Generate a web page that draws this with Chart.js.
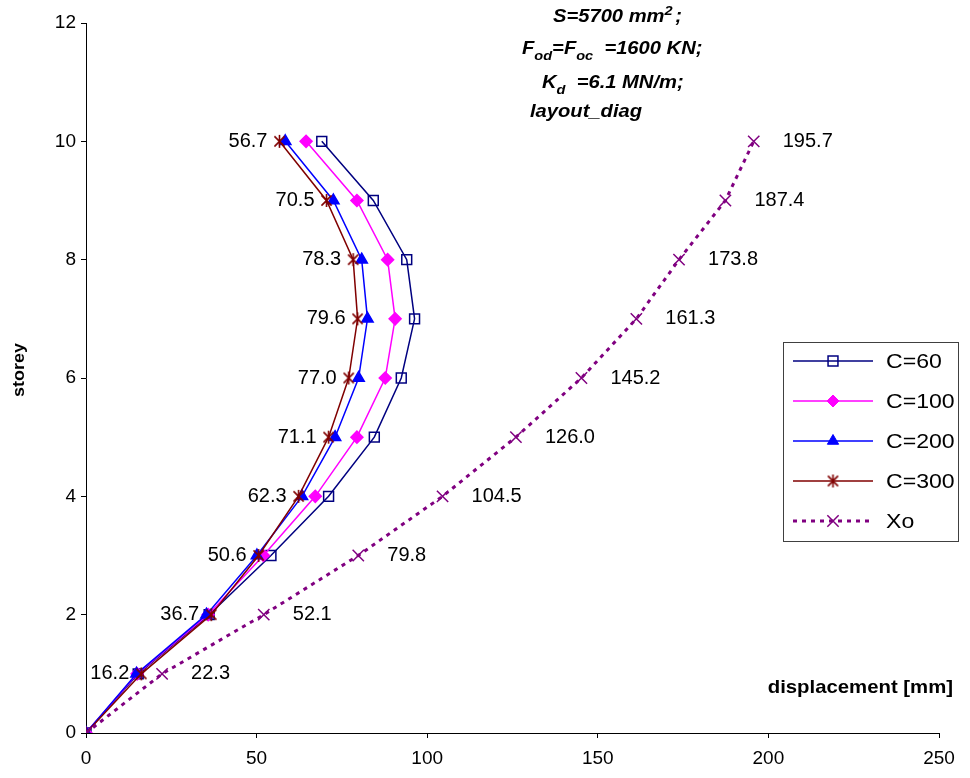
<!DOCTYPE html>
<html>
<head>
<meta charset="utf-8">
<script src="https://cdn.jsdelivr.net/npm/chart.js@4"></script>
<style>
  html, body { margin: 0; padding: 0; background: #fff; }
  #wrap { width: 970px; height: 778px; }
</style>
</head>
<body>
<div id="wrap"><canvas id="c"></canvas></div>
<script>
// storey / displacement values
const storeys = [0, 1, 2, 3, 4, 5, 6, 7, 8, 9, 10];
const dispC60  = [0, 15.3, 36.1, 54.2, 71.1, 84.5, 92.4, 96.3, 94.0, 84.2, 69.1];
const dispC100 = [0, 15.0, 35.8, 52.0, 67.2, 79.4, 87.7, 90.6, 88.4, 79.4, 64.5];
const dispC200 = [0, 14.8, 35.3, 50.1, 63.3, 73.0, 79.9, 82.5, 80.8, 72.5, 58.4];
const dispC300 = [0, 16.2, 36.7, 50.6, 62.3, 71.1, 77.0, 79.6, 78.3, 70.5, 56.7];
const dispXo   = [0, 22.3, 52.1, 79.8, 104.5, 126.0, 145.2, 161.3, 173.8, 187.4, 195.7];
const seriesNames = ['C=60', 'C=100', 'C=200', 'C=300', 'Xo'];
const xTitle = 'displacement [mm]';
const yTitle = 'storey';
// note lines: [text, 'sub'|'sup'|''] segments
const noteLines = [
  [['S=5700 mm', ''], ['2', 'sup'], [' ;', '']],
  [['F', ''], ['od', 'sub'], ['=F', ''], ['oc', 'sub'], ['  =1600 KN;', '']],
  [['K', ''], ['d', 'sub'], ['  =6.1 MN/m;', '']],
  [['layout_diag', '']]
];

const FONT = 'Arial, "Liberation Sans", sans-serif';

function starCanvas(color, size) {
  const c = document.createElement('canvas');
  c.width = c.height = size;
  const g = c.getContext('2d');
  const h = size / 2, r = size / 2 - 1, d = r * 0.78;
  g.strokeStyle = color;
  g.lineWidth = 1.6;
  g.beginPath();
  g.moveTo(h - d, h - d); g.lineTo(h + d, h + d);
  g.moveTo(h + d, h - d); g.lineTo(h - d, h + d);
  g.moveTo(h, h - r); g.lineTo(h, h + r);
  g.stroke();
  return c;
}
const asterisk = starCanvas('#800000', 15);

const pts = arr => arr.map((v, i) => ({ x: v, y: storeys[i] }));

function stretchText(ctx, txt, x, y, align, sx) {
  ctx.save();
  ctx.translate(x, y);
  ctx.scale(sx, 1);
  ctx.textAlign = align;
  ctx.fillText(txt, 0, 0);
  ctx.restore();
}

const datasets = [
  { label: seriesNames[0], data: pts(dispC60), borderColor: '#000080', backgroundColor: '#000080',
    borderWidth: 1.5, pointStyle: 'rect', pointRadius: 7, pointBorderWidth: 1.5,
    pointBackgroundColor: 'rgba(255,255,255,0)', order: 4 },
  { label: seriesNames[1], data: pts(dispC100), borderColor: '#FF00FF', backgroundColor: '#FF00FF',
    borderWidth: 1.5, pointStyle: 'rectRot', pointRadius: 6, order: 3 },
  { label: seriesNames[2], data: pts(dispC200), borderColor: '#0000FF', backgroundColor: '#0000FF',
    borderWidth: 1.5, pointStyle: 'triangle', pointRadius: 6.5, order: 2 },
  { label: seriesNames[3], data: pts(dispC300), borderColor: '#800000', backgroundColor: '#800000',
    borderWidth: 1.5, pointStyle: asterisk, pointRadius: 7, order: 1 },
  { label: seriesNames[4], data: pts(dispXo), borderColor: '#800080', backgroundColor: '#800080',
    borderWidth: 3, borderDash: [4, 5], pointStyle: 'crossRot', pointRadius: 8,
    pointBorderWidth: 1.5, order: 0 }
];

// value labels (C=300 on the left, Xo on the right), titles, note and legend
const extras = {
  id: 'extras',
  afterDatasetsDraw(chart) {
    const ctx = chart.ctx;
    ctx.save();
    ctx.fillStyle = '#000';
    ctx.textBaseline = 'middle';
    ctx.font = '20px ' + FONT;
    chart.getDatasetMeta(3).data.forEach((p, i) => {
      if (i === 0) return;
      stretchText(ctx, dispC300[i].toFixed(1), p.x - 12, p.y, 'right', 1.0);
    });
    chart.getDatasetMeta(4).data.forEach((p, i) => {
      if (i === 0) return;
      stretchText(ctx, dispXo[i].toFixed(1), p.x + 29, p.y, 'left', 1.0);
    });

    // axis titles
    ctx.font = 'bold 19px ' + FONT;
    ctx.textBaseline = 'alphabetic';
    stretchText(ctx, xTitle, 953, 693, 'right', 1.07);
    ctx.save();
    ctx.translate(24, 370);
    ctx.rotate(-Math.PI / 2);
    ctx.font = 'bold 16px ' + FONT;
    stretchText(ctx, yTitle, 0, 0, 'center', 1.12);
    ctx.restore();

    // note at the top
    const starts = [553, 522, 542, 530];
    const bases = [22, 54, 88, 117];
    const sx = 1.12;
    noteLines.forEach((segs, li) => {
      let x = starts[li];
      segs.forEach(([t, kind]) => {
        const size = kind ? 13 : 18;
        ctx.font = 'italic bold ' + size + 'px ' + FONT;
        const dy = kind === 'sub' ? 6 : kind === 'sup' ? -7 : 0;
        ctx.save();
        ctx.translate(x, bases[li] + dy);
        ctx.scale(sx, 1);
        ctx.textAlign = 'left';
        ctx.fillText(t, 0, 0);
        ctx.restore();
        x += ctx.measureText(t).width * sx - (kind === 'sup' ? 3 : 0);
      });
    });

    // legend box
    ctx.fillStyle = '#fff';
    ctx.fillRect(783.5, 342.5, 175, 199);
    ctx.strokeStyle = '#404040';
    ctx.lineWidth = 1;
    ctx.strokeRect(783.5, 342.5, 175, 199);
    chart.data.datasets.forEach((ds, i) => {
      const y = 361 + i * 40;
      ctx.save();
      ctx.strokeStyle = ds.borderColor;
      ctx.lineWidth = ds.borderWidth;
      ctx.setLineDash(ds.borderDash || []);
      ctx.beginPath();
      ctx.moveTo(793, y);
      ctx.lineTo(873, y);
      ctx.stroke();
      ctx.setLineDash([]);
      ctx.fillStyle = ds.pointBackgroundColor || ds.backgroundColor;
      ctx.strokeStyle = ds.borderColor;
      ctx.lineWidth = ds.pointBorderWidth || 1;
      Chart.helpers.drawPoint(ctx, {
        pointStyle: ds.pointStyle, radius: ds.pointRadius, rotation: 0,
        borderWidth: ds.pointBorderWidth || 1
      }, 833, y);
      ctx.restore();
      ctx.fillStyle = '#000';
      ctx.font = '21px ' + FONT;
      ctx.textBaseline = 'middle';
      stretchText(ctx, ds.label, 886, y + 1, 'left', 1.1);
    });
    ctx.restore();
  }
};

new Chart(document.getElementById('c'), {
  type: 'scatter',
  data: { datasets: datasets.map(d => Object.assign({ showLine: true, tension: 0, pointHoverRadius: d.pointRadius }, d)) },
  options: {
    responsive: true,
    maintainAspectRatio: false,
    animation: false,
    layout: { padding: { top: 23, right: 31, left: 0, bottom: 0 } },
    plugins: { legend: { display: false }, tooltip: { enabled: false } },
    scales: {
      x: {
        type: 'linear', min: 0, max: 250,
        afterFit: s => { s.height = 45; },
        grid: { drawOnChartArea: false, drawTicks: true, tickLength: 5, color: '#000' },
        border: { color: '#000', width: 1 },
        ticks: { stepSize: 50, color: '#000', padding: 9, font: { family: FONT, size: 19 } }
      },
      y: {
        type: 'linear', min: 0, max: 12,
        afterFit: s => { s.width = 86; },
        grid: { drawOnChartArea: false, drawTicks: true, tickLength: 5, color: '#000' },
        border: { color: '#000', width: 1 },
        ticks: { stepSize: 2, color: '#000', padding: 5, font: { family: FONT, size: 19 } }
      }
    }
  },
  plugins: [extras]
});
</script>
</body>
</html>
